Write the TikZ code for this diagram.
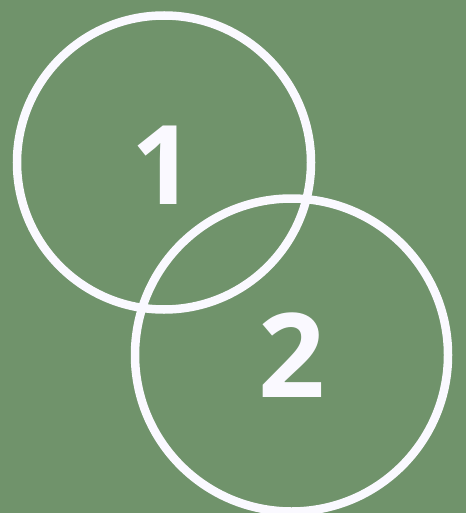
\documentclass[tikz,border=0pt]{standalone}
\usepackage{fontspec}
\setmainfont{Open Sans}
\usepackage{xcolor}
\usepackage{tikz}
\definecolor{bggreen}{HTML}{70936B}
\definecolor{ringwhite}{HTML}{FAF9FF}

\begin{document}
\begin{tikzpicture}[x=1pt, y=-1pt,
  ring/.style={draw=ringwhite, line width=8.5pt},
  digit/.style={text=ringwhite, font=\fontsize{110}{110}\selectfont\bfseries, inner sep=0pt, anchor=base}]
  \fill[bggreen](0,0) rectangle (466,513);
  \useasboundingbox (0,0) rectangle (466,513);
  \draw[ring](164,162.5) circle[radius=147];
  \draw[ring](291.5,355) circle[radius=156.5];
  \node[digit](one) at (163,204){1};
  \node[digit, font=\fontsize{117}{117}\selectfont\bfseries](two) at (292,397){2};
\end{tikzpicture}
\end{document}
